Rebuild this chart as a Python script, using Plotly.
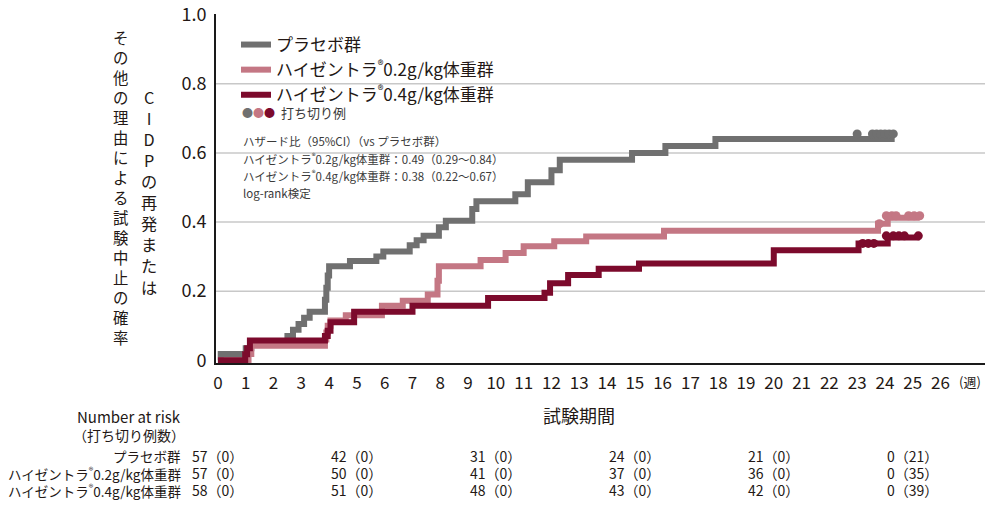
import plotly.graph_objects as go

# Kaplan-Meier curves: weeks / cumulative probability
placebo_t = [0, 0.1, 1.0, 1.2, 2.5, 2.7, 2.9, 3.1, 3.3, 3.85, 3.9, 3.95, 4.0, 4.75, 5.7, 5.95,
             6.9, 7.15, 7.4, 7.95, 8.2, 9.15, 9.3, 10.7, 11.15, 12.0, 12.3, 14.9, 16.1, 17.9, 24.35]
placebo_p = [0, 0.018, 0.035, 0.053, 0.07, 0.088, 0.105, 0.123, 0.14, 0.175, 0.21, 0.245, 0.272, 0.287,
             0.30, 0.315, 0.333, 0.347, 0.36, 0.385, 0.404, 0.438, 0.46, 0.48, 0.515, 0.55, 0.58, 0.60,
             0.62, 0.64, 0.64]

low_t = [0, 1.1, 1.2, 3.85, 3.9, 3.95, 4.05, 4.6, 5.9, 6.65, 7.55, 7.9, 7.95, 9.45, 10.35, 11.0,
         12.1, 13.25, 16.05, 23.75, 24.1, 25.25]
low_p = [0, 0.018, 0.042, 0.06, 0.08, 0.10, 0.115, 0.13, 0.158, 0.172, 0.19, 0.23, 0.272, 0.29, 0.31,
         0.33, 0.344, 0.358, 0.375, 0.395, 0.412, 0.412]

high_t = [0, 0.98, 1.05, 1.15, 3.85, 3.95, 4.05, 4.9, 7.0, 9.72, 11.75, 11.95, 12.6, 13.7, 15.15,
          20.0, 23.05, 24.1, 25.25]
high_p = [0, 0.017, 0.035, 0.057, 0.07, 0.085, 0.11, 0.14, 0.158, 0.18, 0.195, 0.223, 0.247, 0.265,
          0.28, 0.318, 0.338, 0.355, 0.355]

# censored observations
placebo_cens_t = [23.0, 23.55, 23.7, 23.85, 24.0, 24.15, 24.3]
placebo_cens_p = [0.655] * 7
low_cens_t = [23.8, 24.05, 24.25, 24.4, 24.85, 25.05, 25.25]
low_cens_p = [0.395, 0.418, 0.418, 0.418, 0.418, 0.418, 0.418]
high_cens_t = [23.2, 23.4, 23.6, 24.05, 24.3, 24.5, 24.7, 25.2]
high_cens_p = [0.338, 0.338, 0.338, 0.36, 0.36, 0.36, 0.36, 0.36]

# number at risk table (at risk, censored so far)
risk_weeks = [0, 5, 10, 15, 20, 25]
risk_placebo_n = [57, 42, 31, 24, 21, 0]
risk_placebo_c = [0, 0, 0, 0, 0, 21]
risk_low_n = [57, 50, 41, 37, 36, 0]
risk_low_c = [0, 0, 0, 0, 0, 35]
risk_high_n = [58, 51, 48, 43, 42, 0]
risk_high_c = [0, 0, 0, 0, 0, 39]

x_ticks = list(range(0, 27))
y_ticks = [0, 0.2, 0.4, 0.6, 0.8, 1.0]
y_ticktext = ["0", "0.2", "0.4", "0.6", "0.8", "1.0"]

GRAY = "#707070"
PINK = "#c47784"
RED = "#7c0a2c"
TEXT = "#231815"
NOTE = "#3a3a3a"
FONT = "Noto Sans CJK JP"

W, H = 1000, 505
L, R, T, B = 216, 15, 14, 142


def px_x(p):
    return (p - L) / (W - L - R)


def px_y(p):
    return 1 - (p - T) / (H - T - B)


def label(text, x, y, size, color=TEXT, xanchor="center", xref="paper"):
    return dict(x=x, y=px_y(y), xref=xref, yref="paper", xanchor=xanchor, yanchor="middle",
                showarrow=False, text=text, font=dict(size=size, color=color))


fig = go.Figure()

groups = [
    ("プラセボ群", placebo_t, placebo_p, placebo_cens_t, placebo_cens_p, GRAY),
    ("ハイゼントラ<sup>®</sup>0.2g/kg体重群", low_t, low_p, low_cens_t, low_cens_p, PINK),
    ("ハイゼントラ<sup>®</sup>0.4g/kg体重群", high_t, high_p, high_cens_t, high_cens_p, RED),
]

for name, t, p, ct, cp, col in groups:
    fig.add_trace(go.Scatter(
        x=t, y=p, mode="lines", name=name,
        line=dict(color=col, width=6, shape="hv"),
    ))
    fig.add_trace(go.Scatter(
        x=ct, y=cp, mode="markers", showlegend=False,
        marker=dict(color=col, size=9),
    ))

# light horizontal gridlines
for v in y_ticks[1:-1]:
    fig.add_shape(type="line", xref="paper", x0=0, x1=1, yref="y", y0=v, y1=v,
                  line=dict(color="#c8c8c8", width=1.5), layer="below")

ann = []

# censored legend line
ann.append(label(
    f"<span style='color:{GRAY}'>●</span><span style='color:{PINK}'>●</span>"
    f"<span style='color:{RED}'>●</span>", px_x(240), 112, 11, xanchor="left"))
ann.append(label("打ち切り例", px_x(279), 112, 13, NOTE, xanchor="left"))

# hazard ratio note
notes = [
    ("ハザード比（95%CI）（vs プラセボ群）", 141),
    ("ハイゼントラ<sup>®</sup>0.2g/kg体重群：0.49（0.29～0.84）", 158),
    ("ハイゼントラ<sup>®</sup>0.4g/kg体重群：0.38（0.22～0.67）", 175),
    ("log-rank検定", 193),
]
for txt, ypx in notes:
    ann.append(label(txt, px_x(241), ypx, 11.5, NOTE, xanchor="left"))

# vertical y-axis title: two columns, one character per line
col_right = "CIDPの再発または"
col_left = "その他の理由による試験中止の確率"
ann.append(label("<br>".join(col_right), px_x(149), 192, 16.2))
ann.append(label("<br>".join(col_left), px_x(121), 187, 15.4))

# x axis unit and title
ann.append(label("(週)", px_x(970), 382, 13))
ann.append(label("試験期間", 13, 415, 18, xref="x"))

# number at risk table
ann.append(label("Number at risk", px_x(183), 417, 15, xanchor="right"))
ann.append(label("（打ち切り例数）", px_x(187), 435, 14, xanchor="right"))
rows = [
    ("プラセボ群", risk_placebo_n, risk_placebo_c, 456),
    ("ハイゼントラ<sup>®</sup>0.2g/kg体重群", risk_low_n, risk_low_c, 473),
    ("ハイゼントラ<sup>®</sup>0.4g/kg体重群", risk_high_n, risk_high_c, 490),
]
for name, ns, cs, ypx in rows:
    ann.append(label(name, px_x(183), ypx, 13.5, xanchor="right"))
    for wk, n, c in zip(risk_weeks, ns, cs):
        ann.append(label(f"{n}（{c}）", wk, ypx, 14, xref="x"))

fig.update_layout(
    width=W, height=H,
    margin=dict(l=L, r=R, t=T, b=B),
    plot_bgcolor="white", paper_bgcolor="white",
    font=dict(family=FONT, color=TEXT),
    showlegend=True,
    legend=dict(
        x=px_x(236), y=px_y(27), xanchor="left", yanchor="top",
        font=dict(size=17, color=TEXT), itemwidth=30,
        bgcolor="rgba(0,0,0,0)", tracegroupgap=0,
    ),
    annotations=ann,
    xaxis=dict(
        range=[-0.07, 27.6], tickmode="array", tickvals=x_ticks, automargin=False,
        showgrid=False, zeroline=False, showline=True, linecolor="#1a1a1a", linewidth=2,
        ticks="", tickfont=dict(size=17, color=TEXT), ticklabelstandoff=4,
    ),
    yaxis=dict(
        range=[-0.008, 1.002], tickmode="array", tickvals=y_ticks, ticktext=y_ticktext,
        automargin=False,
        showgrid=False, zeroline=False, showline=True, linecolor="#1a1a1a", linewidth=2,
        ticks="", tickfont=dict(size=18, color=TEXT), ticklabelstandoff=4,
        ticklabeloverflow="allow",
    ),
)

# drop the default page margin so the figure sits at the window corner
fig.write_html("out.html", config={"displayModeBar": False},
               post_script="document.body.style.margin='0';")
